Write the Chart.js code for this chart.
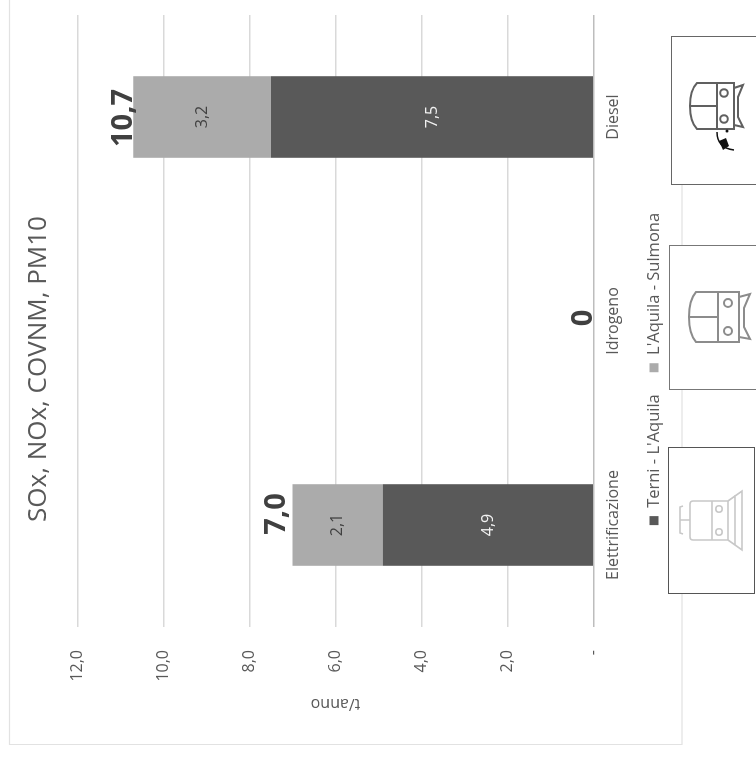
<!DOCTYPE html>
<html>
<head>
<meta charset="utf-8">
<script src="https://cdn.jsdelivr.net/npm/chart.js@4"></script>
<style>
  html, body { margin: 0; padding: 0; background: #fff; overflow: hidden; }
  #page { position: relative; width: 756px; height: 758px; overflow: hidden; }
  /* the whole chart is lying on its side in the source picture */
  #turned { position: absolute; left: 0; top: 0; width: 758px; height: 756px;
            transform-origin: 0 0; transform: translate(0, 758px) rotate(-90deg); }
  #icons { position: absolute; left: 0; top: 0; }
</style>
</head>
<body>
<div id="page">
  <div id="turned"><canvas id="chart" width="758" height="756"></canvas></div>
  <svg id="icons" width="756" height="758" fill="none">
    <path d="M9.5 0V744.5H682V36M682 185V245M682 389V447M682 593V744" stroke="#e2e2e2" stroke-width="1.2"/>

    <rect x="671.5" y="36.5" width="90" height="148" fill="#fff" stroke="#666"/>
    <g stroke="#606060" stroke-width="2">
      <path d="M734 83H697Q690 90 690 106T697 129H734Z"/>
      <path d="M717 83V129M690 106H717M734 88L743 85L738 97V117L743 127L734 125"/>
      <circle cx="724" cy="93" r="3.8"/>
      <circle cx="724" cy="119" r="3.8"/>
    </g>
    <path d="M717 132Q717 148 734 150" stroke="#111" stroke-width="1.5"/>
    <path d="M719 141L726 138L729 146L723 150Z" fill="#111"/>
    <circle cx="727" cy="131" r="1.5" fill="#111"/>

    <rect x="669.5" y="245.5" width="92" height="144" fill="#fff" stroke="#777"/>
    <g stroke="#8c8c8c" stroke-width="2">
      <path d="M739 292H696Q689 300 689 317T696 342H739Z"/>
      <path d="M718 292V342M689 317H718M739 297L750 294L744 308V327L750 339L739 337"/>
      <circle cx="728" cy="303" r="4"/>
      <circle cx="728" cy="331" r="4"/>
    </g>

    <rect x="668.5" y="447.5" width="86" height="146" fill="#fff" stroke="#555"/>
    <g stroke="#c8c8c8" stroke-width="1.6">
      <path d="M728 501H693Q690 501 690 504V537Q690 540 693 540H728Z"/>
      <path d="M712 501V540M728 501L742 491V550L728 540M735 495V545"/>
      <path d="M690 520H680M683 506L680 507V533L683 534"/>
      <circle cx="719" cy="509" r="3.2"/>
      <circle cx="719" cy="532" r="3.2"/>
    </g>
  </svg>
</div>

<script>
const categories = ['Elettrificazione', 'Idrogeno', 'Diesel'];
const terniAquila = [4.9, 0, 7.5];
const aquilaSulmona = [2.1, 0, 3.2];
const totalLabels = ['7,0', '0', '10,7'];
const axisTicks = [0, 2, 4, 6, 8, 10, 12];

const fontName = '"Open Sans", sans-serif';

const comma = (v) => v.toFixed(1).replace('.', ',');

// totals sit a bit off-centre in the original, each one by a different amount
const totalShiftX = [11, 3, -1];
const totalShiftY = [-7, -2, -1];

const barLabels = {
  id: 'barLabels',
  afterDatasetsDraw(chart) {
    const ctx = chart.ctx;
    ctx.save();
    ctx.textAlign = 'center';

    chart.data.datasets.forEach((ds, d) => {
      chart.getDatasetMeta(d).data.forEach((bar, i) => {
        if (!ds.data[i]) return;
        ctx.font = '16px ' + fontName;
        ctx.textBaseline = 'middle';
        ctx.fillStyle = d === 0 ? '#f2f2f2' : '#404040';
        ctx.fillText(comma(ds.data[i]), bar.x, (bar.y + bar.base) / 2);
      });
    });

    const top = chart.getDatasetMeta(1).data;
    ctx.font = 'bold 29px ' + fontName;
    ctx.textBaseline = 'alphabetic';
    ctx.fillStyle = '#404040';
    totalLabels.forEach((txt, i) => {
      ctx.fillText(txt, top[i].x + totalShiftX[i], top[i].y + totalShiftY[i]);
    });
    ctx.restore();
  }
};

new Chart(document.getElementById('chart'), {
  type: 'bar',
  plugins: [barLabels],
  data: {
    labels: categories,
    datasets: [
      { label: 'Terni - L\'Aquila', data: terniAquila, backgroundColor: '#595959' },
      { label: 'L\'Aquila - Sulmona', data: aquilaSulmona, backgroundColor: '#ababab' }
    ]
  },
  options: {
    responsive: false,
    animation: false,
    layout: { padding: { left: 35, right: 15, top: 0, bottom: 83.7 } },
    datasets: { bar: { categoryPercentage: 0.4, barPercentage: 1 } },
    plugins: {
      tooltip: { enabled: false },
      title: {
        display: true,
        text: 'SOx, NOx, COVNM, PM10',
        color: '#595959',
        font: { family: fontName, size: 26, weight: 'normal' },
        padding: { top: 23, bottom: 23 }
      },
      legend: {
        position: 'bottom',
        labels: {
          color: '#595959',
          font: { family: fontName, size: 16.5 },
          boxWidth: 9,
          boxHeight: 9,
          padding: 22
        }
      }
    },
    scales: {
      x: {
        stacked: true,
        grid: { display: false, drawTicks: false },
        border: { display: false },
        ticks: { color: '#595959', font: { family: fontName, size: 16 }, padding: 10, maxRotation: 0 },
        afterFit(scale) { scale.height = 30; }
      },
      y: {
        stacked: true,
        min: 0,
        max: 12,
        afterBuildTicks(scale) { scale.ticks = axisTicks.map((value) => ({ value })); },
        afterFit(scale) { scale.width = 96; },
        grid: {
          color: (c) => (c.tick.value === 0 ? '#bdbdbd' : '#d9d9d9'),
          lineWidth: 1.4,
          drawTicks: false
        },
        border: { display: false },
        ticks: {
          color: '#595959',
          font: { family: fontName, size: 16 },
          padding: 23,
          callback: (v) => (v === 0 ? '-' : comma(v))
        },
        title: {
          display: true,
          text: 't/anno',
          color: '#595959',
          font: { family: fontName, size: 16 },
          padding: { top: 10, bottom: 0 }
        }
      }
    }
  }
});
</script>
</body>
</html>
